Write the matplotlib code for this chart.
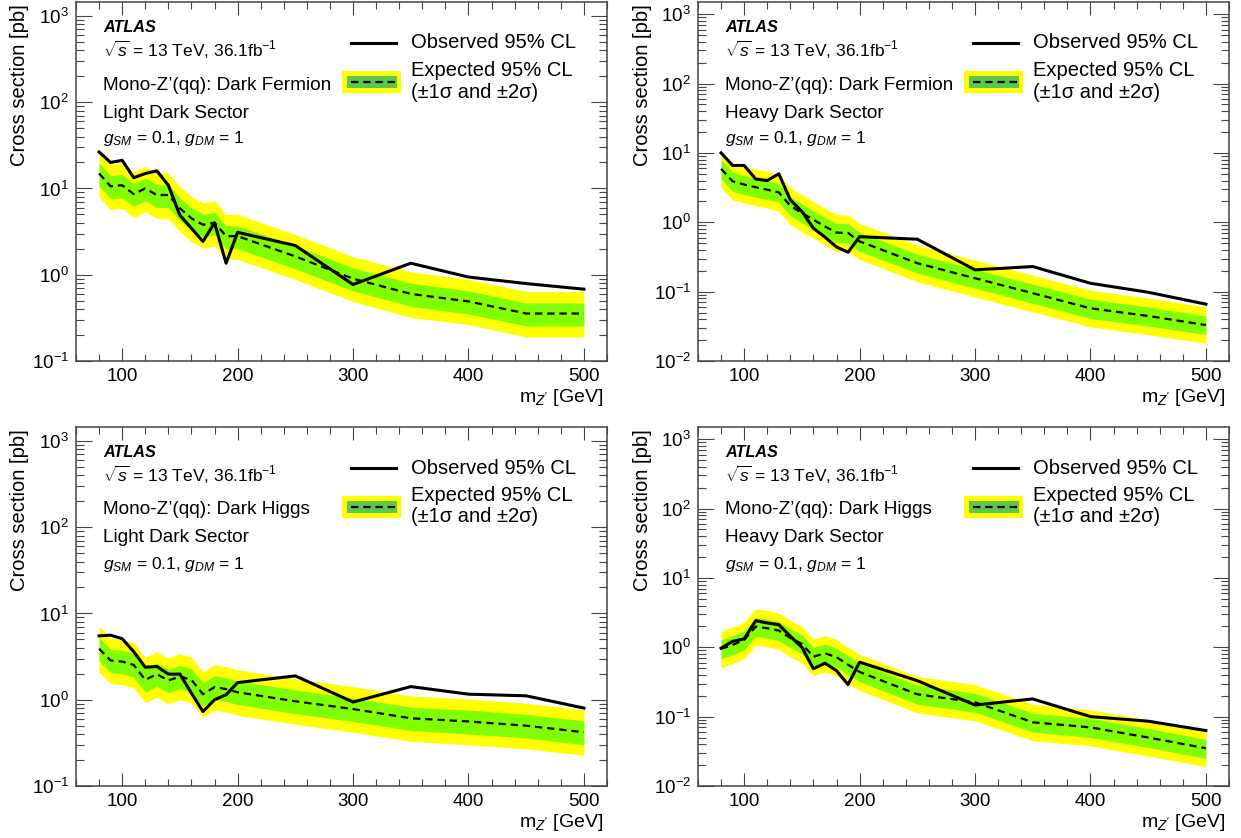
import numpy as np
import matplotlib
matplotlib.use("Agg")
import matplotlib.pyplot as plt
from matplotlib.ticker import MultipleLocator, LogLocator, LogFormatterSciNotation, NullFormatter
from matplotlib.patches import Rectangle
from matplotlib.lines import Line2D

plt.rcParams['font.family'] = ['Liberation Sans', 'DejaVu Sans']
plt.rcParams['mathtext.fontset'] = 'custom'
plt.rcParams['mathtext.rm'] = 'Liberation Sans'
plt.rcParams['mathtext.it'] = 'Liberation Sans:italic'
plt.rcParams['mathtext.bf'] = 'Liberation Sans:bold'
plt.rcParams['mathtext.sf'] = 'Liberation Sans'

# Z' mass points [GeV]
mass = [80, 90, 100, 110, 120, 130, 140, 150, 160, 170, 180, 190, 200, 250, 300, 350, 400, 450, 500]

# Dark Fermion, light dark sector
df_light_obs = [26.5, 20.0, 21.2, 13.3, 14.9, 16.0, 10.9, 4.9, 3.45, 2.43, 4.0, 1.36, 3.1, 2.18, 0.77, 1.36, 0.94, 0.79, 0.68]
df_light_exp = [14.9, 10.6, 10.9, 8.6, 10.0, 8.4, 8.4, 5.9, 4.5, 3.8, 4.0, 2.8, 2.8, 1.63, 0.90, 0.60, 0.49, 0.355, 0.355]
df_light_p2 = [26.8, 19.1, 19.6, 15.5, 18.0, 15.1, 15.1, 10.6, 8.1, 6.8, 7.2, 5.0, 5.0, 2.93, 1.62, 1.08, 0.88, 0.64, 0.64]
df_light_p1 = [19.8, 14.1, 14.5, 11.4, 13.3, 11.2, 11.2, 7.8, 6.0, 5.05, 5.3, 3.7, 3.7, 2.17, 1.20, 0.80, 0.65, 0.47, 0.47]
df_light_m1 = [10.7, 7.6, 7.8, 6.2, 7.2, 6.0, 6.0, 4.25, 3.25, 2.75, 2.9, 2.0, 2.0, 1.17, 0.65, 0.43, 0.35, 0.255, 0.255]
df_light_m2 = [8.0, 5.7, 5.9, 4.6, 5.4, 4.5, 4.5, 3.2, 2.43, 2.05, 2.16, 1.51, 1.51, 0.88, 0.49, 0.32, 0.265, 0.19, 0.19]

# Dark Fermion, heavy dark sector
df_heavy_obs = [10.0, 6.6, 6.6, 4.2, 4.0, 5.0, 2.1, 1.43, 0.82, 0.61, 0.44, 0.37, 0.62, 0.57, 0.206, 0.23, 0.132, 0.098, 0.066]
df_heavy_exp = [5.9, 3.9, 3.5, 3.2, 2.95, 2.7, 1.73, 1.36, 1.09, 0.87, 0.71, 0.70, 0.53, 0.257, 0.156, 0.095, 0.0575, 0.0446, 0.033]
df_heavy_p2 = [10.7, 7.1, 6.4, 5.8, 5.4, 4.9, 3.15, 2.48, 1.98, 1.58, 1.29, 1.27, 0.96, 0.47, 0.284, 0.173, 0.105, 0.081, 0.060]
df_heavy_p1 = [8.0, 5.3, 4.7, 4.3, 4.0, 3.65, 2.34, 1.84, 1.47, 1.17, 0.96, 0.95, 0.72, 0.347, 0.21, 0.128, 0.078, 0.060, 0.0445]
df_heavy_m1 = [4.25, 2.8, 2.52, 2.3, 2.12, 1.94, 1.25, 0.98, 0.78, 0.63, 0.51, 0.50, 0.38, 0.185, 0.112, 0.068, 0.041, 0.032, 0.024]
df_heavy_m2 = [3.2, 2.1, 1.9, 1.73, 1.6, 1.46, 0.93, 0.73, 0.59, 0.47, 0.38, 0.38, 0.29, 0.139, 0.084, 0.051, 0.031, 0.024, 0.018]

# Dark Higgs, light dark sector
dh_light_obs = [5.5, 5.6, 5.1, 3.6, 2.38, 2.43, 1.98, 1.98, 1.19, 0.73, 1.0, 1.14, 1.58, 1.89, 0.94, 1.42, 1.16, 1.11, 0.80]
dh_light_exp = [3.9, 2.85, 2.77, 2.53, 1.70, 1.98, 1.67, 1.86, 1.70, 1.16, 1.40, 1.33, 1.22, 0.96, 0.78, 0.61, 0.56, 0.50, 0.42]
dh_light_p2 = [7.1, 5.2, 5.0, 4.6, 3.1, 3.6, 3.04, 3.4, 3.1, 2.1, 2.55, 2.42, 2.22, 1.75, 1.42, 1.11, 1.02, 0.91, 0.76]
dh_light_p1 = [5.3, 3.85, 3.75, 3.4, 2.3, 2.67, 2.25, 2.5, 2.3, 1.57, 1.89, 1.8, 1.65, 1.3, 1.05, 0.82, 0.76, 0.675, 0.57]
dh_light_m1 = [2.8, 2.05, 2.0, 1.82, 1.22, 1.43, 1.2, 1.34, 1.22, 0.835, 1.0, 0.96, 0.88, 0.69, 0.56, 0.44, 0.40, 0.36, 0.30]
dh_light_m2 = [2.1, 1.54, 1.5, 1.37, 0.92, 1.07, 0.9, 1.0, 0.92, 0.63, 0.76, 0.72, 0.66, 0.52, 0.42, 0.33, 0.30, 0.27, 0.227]

# Dark Higgs, heavy dark sector
dh_heavy_obs = [0.97, 1.22, 1.32, 2.42, 2.24, 2.12, 1.44, 1.0, 0.49, 0.59, 0.46, 0.29, 0.61, 0.33, 0.147, 0.18, 0.10, 0.086, 0.063]
dh_heavy_exp = [0.95, 1.08, 1.28, 1.99, 1.88, 1.74, 1.36, 1.12, 0.73, 0.82, 0.72, 0.56, 0.44, 0.21, 0.161, 0.083, 0.070, 0.050, 0.035]
dh_heavy_p2 = [1.71, 1.94, 2.3, 3.6, 3.4, 3.1, 2.45, 2.0, 1.31, 1.48, 1.3, 1.0, 0.79, 0.38, 0.29, 0.15, 0.126, 0.09, 0.063]
dh_heavy_p1 = [1.28, 1.46, 1.73, 2.69, 2.54, 2.35, 1.84, 1.51, 0.99, 1.11, 0.97, 0.76, 0.59, 0.284, 0.217, 0.112, 0.0945, 0.0675, 0.047]
dh_heavy_m1 = [0.68, 0.78, 0.92, 1.43, 1.35, 1.25, 0.98, 0.81, 0.53, 0.59, 0.52, 0.40, 0.32, 0.151, 0.116, 0.060, 0.050, 0.036, 0.025]
dh_heavy_m2 = [0.51, 0.58, 0.69, 1.07, 1.02, 0.94, 0.73, 0.60, 0.39, 0.44, 0.39, 0.30, 0.24, 0.113, 0.087, 0.045, 0.038, 0.027, 0.019]

W, H = 1241, 838
fig = plt.figure(figsize=(W / 100, H / 100), dpi=100)


def fx(px):
    return px / W


def fy(py):
    return 1 - py / H


YELLOW = '#ffff00'
GREEN = '#80ff00'
LEG_GREEN = '#5cc84c'
FRAME = '#444444'
DASH = (0, (3.3, 2.2))


def draw_panel(dx, dy, ylim, obs, exp, p1, m1, p2, m2, model, sector):
    ax = fig.add_axes([fx(76 + dx), fy(361 + dy), 531 / W, 359 / H])
    ax.fill_between(mass, m2, p2, color=YELLOW, lw=0)
    ax.fill_between(mass, m1, p1, color=GREEN, lw=0)
    ax.plot(mass, exp, color='black', lw=1.6, ls=DASH)
    ax.plot(mass, obs, color='black', lw=2.2)
    ax.set_yscale('log')
    ax.set_xlim(60, 520)
    ax.set_ylim(*ylim)

    ax.xaxis.set_major_locator(MultipleLocator(100))
    ax.xaxis.set_minor_locator(MultipleLocator(20))
    ax.yaxis.set_major_locator(LogLocator(base=10, numticks=20))
    ax.yaxis.set_minor_locator(LogLocator(base=10, subs=np.arange(2, 10), numticks=20))
    ax.yaxis.set_major_formatter(LogFormatterSciNotation())
    ax.yaxis.set_minor_formatter(NullFormatter())

    ax.tick_params(axis='x', which='major', direction='in', length=9.4, width=0.8,
                   top=True, labelsize=13.5, pad=5, color=FRAME)
    ax.tick_params(axis='x', which='minor', direction='in', length=4.7, width=0.8,
                   top=True, color=FRAME)
    ax.tick_params(axis='y', which='major', direction='in', length=11.5, width=0.8,
                   right=True, labelsize=13.5, pad=5, color=FRAME)
    ax.tick_params(axis='y', which='minor', direction='in', length=5.8, width=0.8,
                   right=True, color=FRAME)
    for sp in ax.spines.values():
        sp.set_color(FRAME)
        sp.set_linewidth(1.1)

    # axis titles
    fig.text(fx(20 + dx), fy(4 + dy), 'Cross section [pb]', rotation=90,
             ha='center', va='top', fontsize=14.5)
    fig.text(fx(603 + dx), fy(397 + dy), r"m$_{Z^{\prime}}$ [GeV]",
             ha='right', va='center', fontsize=14)

    # labels
    fig.text(fx(103 + dx), fy(27 + dy), 'ATLAS', fontsize=11.7, weight='bold',
             style='italic', va='center')
    fig.text(fx(103 + dx), fy(50 + dy), r'$\sqrt{s}$ = 13 TeV, 36.1fb$^{-1}$',
             fontsize=12.5, va='center')
    fig.text(fx(103 + dx), fy(85 + dy), model, fontsize=13.7, va='center')
    fig.text(fx(103 + dx), fy(113 + dy), sector, fontsize=13.7, va='center')
    fig.text(fx(103 + dx), fy(139 + dy), r'$g_{SM}$ = 0.1, $g_{DM}$ = 1',
             fontsize=12.5, va='center')

    # legend
    fig.add_artist(Line2D([fx(351 + dx), fx(396 + dx)], [fy(43 + dy)] * 2,
                          color='black', lw=2.2))
    fig.add_artist(Rectangle((fx(342 + dx), fy(93 + dy)), 59 / W, 22 / H,
                             facecolor=YELLOW, lw=0, transform=fig.transFigure))
    fig.add_artist(Rectangle((fx(347 + dx), fy(88 + dy)), 50 / W, 12 / H,
                             facecolor=LEG_GREEN, lw=0, transform=fig.transFigure))
    fig.add_artist(Line2D([fx(351 + dx), fx(396 + dx)], [fy(82 + dy)] * 2,
                          color='black', lw=1.6, ls=DASH))
    fig.text(fx(411 + dx), fy(43 + dy), 'Observed 95% CL', fontsize=14.5, va='center')
    fig.text(fx(411 + dx), fy(70 + dy), 'Expected 95% CL', fontsize=14.5, va='center')
    fig.text(fx(411 + dx), fy(92 + dy), '(±1σ and ±2σ)', fontsize=14.5, va='center')
    return ax


draw_panel(0, 0, (0.1, 1450), df_light_obs, df_light_exp, df_light_p1, df_light_m1,
           df_light_p2, df_light_m2, 'Mono-Z’(qq): Dark Fermion', 'Light Dark Sector')
draw_panel(622, 0, (0.01, 1500), df_heavy_obs, df_heavy_exp, df_heavy_p1, df_heavy_m1,
           df_heavy_p2, df_heavy_m2, 'Mono-Z’(qq): Dark Fermion', 'Heavy Dark Sector')
draw_panel(0, 425, (0.1, 1450), dh_light_obs, dh_light_exp, dh_light_p1, dh_light_m1,
           dh_light_p2, dh_light_m2, 'Mono-Z’(qq): Dark Higgs', 'Light Dark Sector')
draw_panel(622, 425, (0.01, 1500), dh_heavy_obs, dh_heavy_exp, dh_heavy_p1, dh_heavy_m1,
           dh_heavy_p2, dh_heavy_m2, 'Mono-Z’(qq): Dark Higgs', 'Heavy Dark Sector')

fig.savefig('out.png', dpi=100)
